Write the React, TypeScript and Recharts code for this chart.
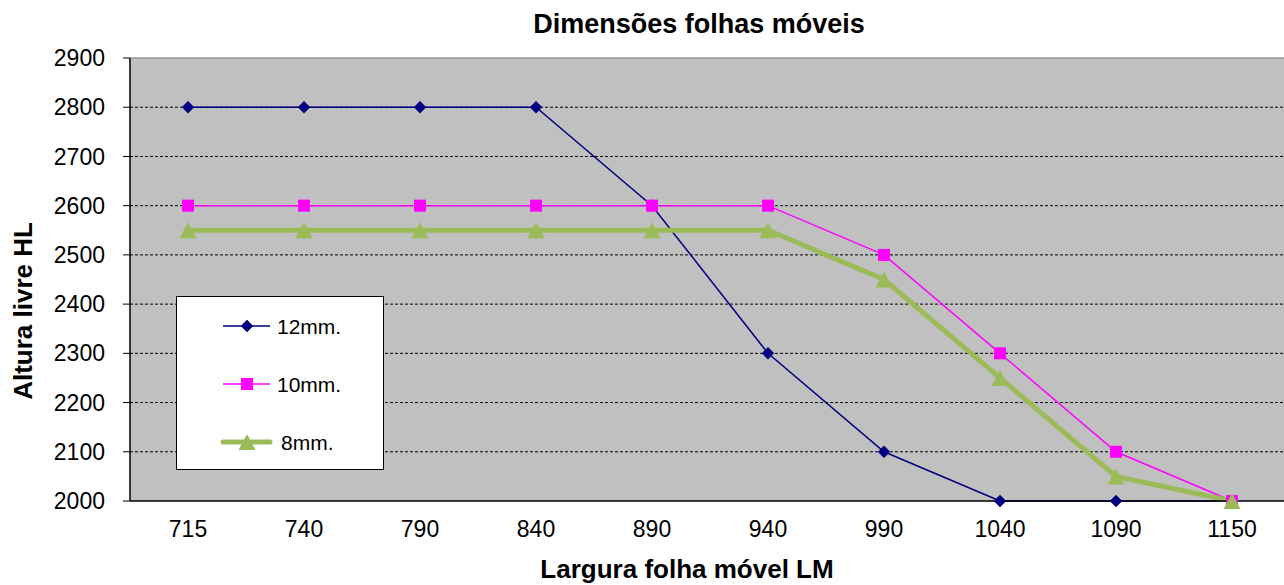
import React from 'react';
import { LineChart, Line, XAxis, YAxis, CartesianGrid, ReferenceLine, Legend } from 'recharts';

const categories = ['715', '740', '790', '840', '890', '940', '990', '1040', '1090', '1150'];
const series12 = [2800, 2800, 2800, 2800, 2600, 2300, 2100, 2000, 2000, 2000];
const series10 = [2600, 2600, 2600, 2600, 2600, 2600, 2500, 2300, 2100, 2000];
const series8 = [2550, 2550, 2550, 2550, 2550, 2550, 2450, 2250, 2050, 2000];
const yTicks = [2000, 2100, 2200, 2300, 2400, 2500, 2600, 2700, 2800, 2900];
const gridValues = [2100, 2200, 2300, 2400, 2500, 2600, 2700, 2800];
const boundaryTicks = [0, 1, 2, 3, 4, 5, 6, 7, 8, 9, 10];
const seriesNames = ['12mm.', '10mm.', '8mm.'];

const data = categories.map((c, i) => ({
  cat: c,
  s12: series12[i],
  s10: series10[i],
  s8: series8[i],
}));

const FONT = '"Liberation Sans", Arial, sans-serif';

type MarkerKind = 'diamond' | 'square' | 'triangle';

function Marker({ cx, cy, kind, color }: { cx: number; cy: number; kind: MarkerKind; color: string }) {
  if (cx == null || cy == null || isNaN(cx) || isNaN(cy)) return null;
  if (kind === 'diamond') {
    const r = 6;
    return <polygon points={`${cx},${cy - r} ${cx + r},${cy} ${cx},${cy + r} ${cx - r},${cy}`} fill={color} stroke={color} strokeWidth={0.5} />;
  }
  if (kind === 'square') {
    const h = 6;
    return <rect x={cx - h} y={cy - h} width={h * 2} height={h * 2} fill={color} />;
  }
  return <polygon points={`${cx},${cy - 8} ${cx + 8.5},${cy + 8} ${cx - 8.5},${cy + 8}`} fill={color} />;
}

const styles = [
  { key: 's12', color: '#000080', width: 1.5, kind: 'diamond' as MarkerKind },
  { key: 's10', color: '#FF00FF', width: 1.5, kind: 'square' as MarkerKind },
  { key: 's8', color: '#9BBB59', width: 5, kind: 'triangle' as MarkerKind },
];

function LegendBox() {
  return (
    <div
      style={{
        width: 206,
        height: 172,
        background: '#fff',
        border: '1px solid #000',
        position: 'relative',
        fontFamily: FONT,
      }}
    >
      {seriesNames.map((name, i) => {
        const st = styles[i];
        const cy = 29 + i * 58;
        return (
          <div key={name} style={{ position: 'absolute', left: 0, top: cy - 15, height: 30, width: 206 }}>
            <svg width={100} height={30} style={{ position: 'absolute', left: 0, top: 0 }}>
              <line x1={46} x2={93} y1={15} y2={15} stroke={st.color} strokeWidth={st.width} strokeLinecap={st.width > 2 ? 'round' : 'butt'} />
              <Marker cx={70} cy={15} kind={st.kind} color={st.color} />
            </svg>
            <span
              style={{
                position: 'absolute',
                left: i === 2 ? 104 : 100,
                top: 15,
                transform: 'translateY(-50%)',
                fontSize: 21,
                lineHeight: 1,
                color: '#000',
                whiteSpace: 'nowrap',
              }}
            >
              {name}
            </span>
          </div>
        );
      })}
    </div>
  );
}

export default function App() {
  return (
    <div
      style={{
        position: 'absolute',
        left: 0,
        top: 0,
        width: 1284,
        height: 585,
        overflow: 'hidden',
        background: '#fff',
        fontFamily: FONT,
      }}
    >
      <LineChart width={1300} height={585} data={data} margin={{ top: 58, right: 10, left: 0, bottom: 24 }}>
        <CartesianGrid horizontal={false} vertical={false} fill="#C0C0C0" stroke="none" />
        <XAxis
          xAxisId="bounds"
          type="number"
          domain={[0, 10]}
          ticks={boundaryTicks}
          allowDataOverflow
          height={0}
          tick={false}
          tickSize={8}
          tickLine={{ stroke: '#000', strokeWidth: 1 }}
          axisLine={false}
        />
        <XAxis
          dataKey="cat"
          scale="band"
          height={60}
          tickLine={false}
          tickSize={8}
          tickMargin={12}
          axisLine={{ stroke: '#000', strokeWidth: 1.5 }}
          tick={{ fill: '#000', fontSize: 23, fontFamily: FONT }}
          interval={0}
        />
        <YAxis
          domain={[2000, 2900]}
          ticks={yTicks}
          width={130}
          tickSize={7}
          tickMargin={18}
          interval={0}
          axisLine={{ stroke: '#000', strokeWidth: 1.5 }}
          tickLine={{ stroke: '#000', strokeWidth: 1 }}
          tick={{ fill: '#000', fontSize: 23, fontFamily: FONT }}
        />
        <ReferenceLine y={2900} stroke="#9a9a9a" strokeWidth={1.5} />
        {gridValues.map((v) => (
          <ReferenceLine key={v} y={v} stroke="#000" strokeWidth={1} strokeDasharray="3 2" />
        ))}
        {styles.map((st, i) => (
          <Line
            key={st.key}
            dataKey={st.key}
            name={seriesNames[i]}
            type="linear"
            stroke={st.color}
            strokeWidth={st.width}
            isAnimationActive={false}
            dot={(p: any) => <Marker key={`${st.key}-${p.index}`} cx={p.cx} cy={p.cy} kind={st.kind} color={st.color} />}
            activeDot={false}
          />
        ))}
        <Legend
          layout="vertical"
          align="center"
          verticalAlign="middle"
          wrapperStyle={{ left: 176, top: 296, width: 208, height: 174 }}
          content={() => <LegendBox />}
        />
      </LineChart>
      <div
        style={{
          position: 'absolute',
          left: 699,
          top: 11,
          transform: 'translateX(-50%)',
          fontSize: 27,
          fontWeight: 'bold',
          lineHeight: 1,
          whiteSpace: 'nowrap',
          color: '#000',
        }}
      >
        Dimensões folhas móveis
      </div>
      <div
        style={{
          position: 'absolute',
          left: 687,
          top: 556,
          transform: 'translateX(-50%)',
          fontSize: 26,
          fontWeight: 'bold',
          lineHeight: 1,
          whiteSpace: 'nowrap',
          color: '#000',
        }}
      >
        Largura folha móvel LM
      </div>
      <div
        style={{
          position: 'absolute',
          left: 23,
          top: 311,
          transform: 'translate(-50%, -50%) rotate(-90deg)',
          fontSize: 26,
          fontWeight: 'bold',
          lineHeight: 1,
          whiteSpace: 'nowrap',
          color: '#000',
        }}
      >
        Altura livre HL
      </div>
    </div>
  );
}
